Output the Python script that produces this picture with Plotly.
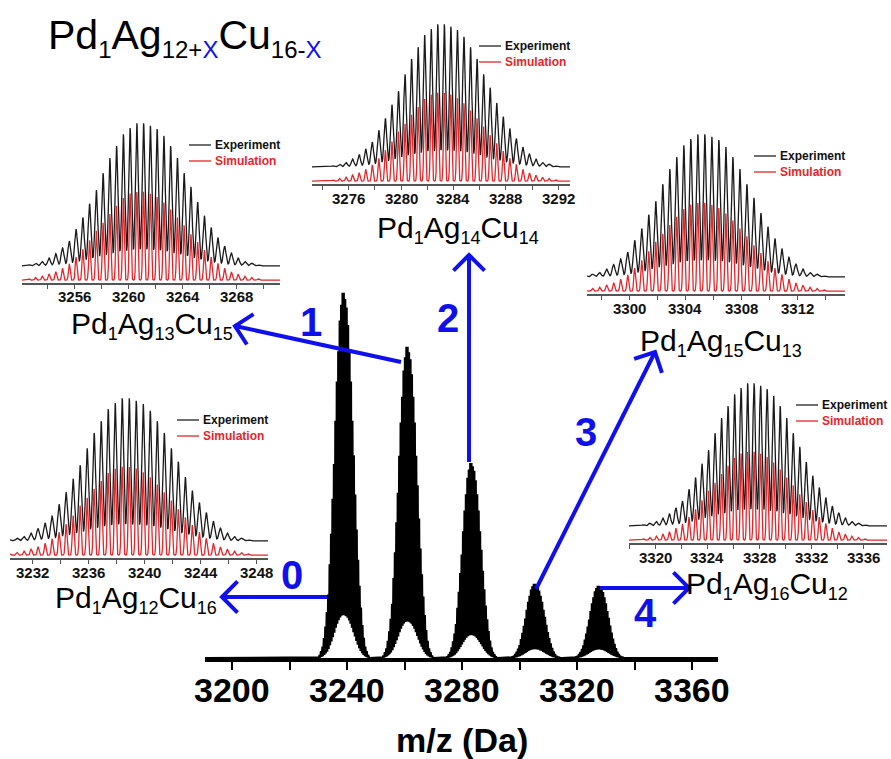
import numpy as np
import plotly.graph_objects as go

W, H = 891, 759

# ---------------- data ----------------
# Pd1Ag(12+x)Cu(16-x), 2- ions; one isotope envelope per x
x_index = [0, 1, 2, 3, 4]
formulas = [
    ("12", "16"),
    ("13", "15"),
    ("14", "14"),
    ("15", "13"),
    ("16", "12"),
]
center_mz = [3238.9, 3261.1, 3283.3, 3305.4, 3327.6]      # Da
envelope_height = [100.0, 85.2, 53.4, 20.3, 19.8]          # % of strongest envelope
iso_spacing = 0.5                                          # Da, z = 2

# relative isotope intensities (%), experiment and simulation
exp_pattern = [0.8, 1.9, 3.1, 5.5, 8.6, 12.6, 17.4, 25.7, 34.0, 43.6,
               53.1, 65.0, 75.7, 84.0, 92.4, 96.7, 100.0, 100.0, 98.3, 96.0,
               91.2, 84.0, 75.7, 65.0, 55.5, 44.8, 35.2, 26.9, 19.8, 13.8,
               9.0, 5.5, 3.1, 1.9, 0.8]
sim_pattern = [1.5, 3.0, 4.5, 7.0, 9.5, 13.5, 18.5, 26.0, 35.0, 45.0,
               56.0, 65.0, 75.0, 84.0, 93.0, 98.0, 100.0, 100.0, 98.0, 94.0,
               88.0, 80.0, 71.0, 62.0, 52.0, 43.0, 34.0, 26.0, 19.0, 13.5,
               9.3, 6.7, 4.5, 3.0, 1.5]
sim_scale = 62.0            # simulated envelope max, % of experiment

main_ticks = [3200, 3240, 3280, 3320, 3360]
inset_tick0 = [3232, 3256, 3276, 3300, 3320]

# ---------------- helpers ----------------
EXP_WIDTH = 0.105   # Da, gaussian sigma of measured isotope lines
SIM_WIDTH = 0.06


def profile(mz, center, scale, pattern, sigma):
    n = len(pattern)
    y = np.zeros_like(mz)
    for k, a in enumerate(pattern):
        pos = center + (k - (n - 1) / 2) * iso_spacing
        y += scale * a / 100.0 * np.exp(-0.5 * ((mz - pos) / sigma) ** 2)
    return y


def fx(px):
    return px / W


def fy(py):
    return 1 - py / H


def sub(t, size):
    return f"<sub><span style='font-size:{size}px'>{t}</span></sub>"


BLUE = "#1010ee"
RED = "#e4262b"
SANS = "Liberation Sans, Arial, sans-serif"
NARROW = "Liberation Sans Narrow, Arial Narrow, Liberation Sans, sans-serif"

fig = go.Figure()
annotations = []
shapes = []

# ---------------- main spectrum ----------------
x_lo, x_hi = 3190.6, 3369.0
mz = np.arange(x_lo, x_hi, 0.01)
spec = np.zeros_like(mz)
for c, h in zip(center_mz, envelope_height):
    spec += profile(mz, c, h, exp_pattern, EXP_WIDTH)
fig.add_trace(go.Scatter(x=mz, y=spec, mode="lines",
                         line=dict(color="black", width=2.0),
                         xaxis="x", yaxis="y", showlegend=False,
                         hoverinfo="skip"))

layout = dict(
    width=W, height=H,
    margin=dict(l=0, r=0, t=0, b=0),
    paper_bgcolor="white", plot_bgcolor="rgba(0,0,0,0)",
    showlegend=False,
)
layout["xaxis"] = dict(
    domain=[fx(205), fx(718)], range=[x_lo, x_hi],
    showline=True, linecolor="black", linewidth=3.5,
    ticks="outside", ticklen=8, tickwidth=2.2, tickcolor="black",
    tickvals=main_ticks, showticklabels=False, showgrid=False, zeroline=False,
    minor=dict(ticks="outside", ticklen=8, tickwidth=2.2, tickcolor="black",
               dtick=20, tick0=3200, showgrid=False),
    anchor="y",
)
layout["yaxis"] = dict(domain=[fy(658), fy(249)], range=[0, 112],
                       visible=False, anchor="x")

for v in main_ticks:
    annotations.append(dict(text=str(v), xref="x", yref="paper", x=v, y=fy(690),
                            xanchor="center", yanchor="middle", showarrow=False,
                            font=dict(family=NARROW, size=34, color="black",
                                      weight="bold")))
annotations.append(dict(text="m/z (Da)", xref="paper", yref="paper",
                        x=fx(462), y=fy(740), xanchor="center", yanchor="middle",
                        showarrow=False,
                        font=dict(family=SANS, size=34, color="black", weight="bold")))

# ---------------- insets ----------------
inset_axis_py = [558, 283, 184, 294, 543]
inset_left_px = [10, 22, 312, 587, 629]
inset_ranges = [(3230.4, 3248.8), (3252.1, 3271.2), (3273.2, 3292.9),
                (3297.0, 3315.4), (3318.0, 3337.8)]
INSET_W = 258
INSET_H = 164

for i in range(5):
    n = i + 2
    xa, ya = f"x{n}", f"y{n}"
    lo, hi = inset_ranges[i]
    m = np.arange(lo, hi, 0.008)
    exp_y = 12 + profile(m, center_mz[i], 100.0, exp_pattern, EXP_WIDTH)
    sim_y = 2 + profile(m, center_mz[i], sim_scale, sim_pattern, SIM_WIDTH)
    fig.add_trace(go.Scatter(x=m, y=exp_y, mode="lines",
                             line=dict(color="#1a1a1a", width=1.3),
                             xaxis=xa, yaxis=ya, hoverinfo="skip"))
    fig.add_trace(go.Scatter(x=m, y=sim_y, mode="lines",
                             line=dict(color=RED, width=1.3),
                             xaxis=xa, yaxis=ya, hoverinfo="skip"))
    ax_py = inset_axis_py[i]
    left = inset_left_px[i]
    layout[f"xaxis{n}"] = dict(
        domain=[fx(left), fx(left + INSET_W)], range=[lo, hi],
        showline=True, linecolor="#555", linewidth=1.6,
        ticks="outside", ticklen=4, tickwidth=1.2, tickcolor="#555",
        tick0=inset_tick0[i], dtick=4, showticklabels=False,
        showgrid=False, zeroline=False,
        minor=dict(ticks="outside", ticklen=4, tickwidth=1.2, tickcolor="#555",
                   dtick=2, tick0=inset_tick0[i], showgrid=False),
        anchor=ya,
    )
    layout[f"yaxis{n}"] = dict(domain=[fy(ax_py), fy(ax_py - INSET_H)],
                               range=[0, 115], visible=False, anchor=xa)

    for v in range(inset_tick0[i], int(hi) + 1, 4):
        annotations.append(dict(text=str(v), xref=xa, yref="paper", x=v,
                                y=fy(ax_py + 14), xanchor="center", yanchor="middle",
                                showarrow=False,
                                font=dict(family=SANS, size=15, color="#111",
                                          weight="bold")))

    # legend block
    right = left + INSET_W
    for text, col, lc, dy in (("Experiment", "#111", "#222", -138),
                              ("Simulation", RED, RED, -122)):
        shapes.append(dict(type="line", xref="paper", yref="paper",
                           x0=fx(right - 91), x1=fx(right - 69),
                           y0=fy(ax_py + dy), y1=fy(ax_py + dy),
                           line=dict(color=lc, width=1.3)))
        annotations.append(dict(text=text, xref="paper", yref="paper",
                                x=fx(right - 67), y=fy(ax_py + dy),
                                xanchor="left", yanchor="middle", showarrow=False,
                                font=dict(family=SANS, size=12, color=col,
                                          weight="bold")))

# formula labels under each inset
label_pos = [(136, 599), (152, 325), (458, 230), (721, 342), (767, 585)]
for (ag, cu), (lx, ly) in zip(formulas, label_pos):
    annotations.append(dict(
        text="Pd" + sub("1", 18) + "Ag" + sub(ag, 18) + "Cu" + sub(cu, 18),
        xref="paper", yref="paper", x=fx(lx), y=fy(ly),
        xanchor="center", yanchor="middle", showarrow=False,
        font=dict(family=SANS, size=30, color="black")))

# overall formula
annotations.append(dict(
    text=("Pd" + sub("1", 24) + "Ag"
          + f"<sub><span style='font-size:24px'>12+<span style='color:{BLUE}'>X</span></span></sub>"
          + "Cu"
          + f"<sub><span style='font-size:24px'>16-<span style='color:{BLUE}'>X</span></span></sub>"),
    xref="paper", yref="paper", x=fx(185), y=fy(38),
    xanchor="center", yanchor="middle", showarrow=False,
    font=dict(family=SANS, size=41, color="black")))

# ---------------- arrows from peaks to insets ----------------
arrows = [((327, 597), (222, 597)),
          ((401, 362), (235, 326)),
          ((469, 462), (469, 255)),
          ((536, 589), (655, 352)),
          ((600, 588), (689, 588))]
number_pos = [(292, 575), (311, 322), (448, 318), (586, 432), (645, 613)]

for (tail, tip), k, (nx, ny) in zip(arrows, x_index, number_pos):
    shapes.append(dict(type="line", xref="paper", yref="paper",
                       x0=fx(tail[0]), y0=fy(tail[1]), x1=fx(tip[0]), y1=fy(tip[1]),
                       line=dict(color=BLUE, width=4)))
    d = np.array(tail, float) - np.array(tip, float)
    d /= np.hypot(*d)
    arms = []
    for ang in (np.pi / 4, -np.pi / 4):
        r = np.array([d[0] * np.cos(ang) - d[1] * np.sin(ang),
                      d[0] * np.sin(ang) + d[1] * np.cos(ang)])
        arms.append(np.array(tip) + 22 * r)
    path = (f"M {fx(arms[0][0])},{fy(arms[0][1])} L {fx(tip[0])},{fy(tip[1])} "
            f"L {fx(arms[1][0])},{fy(arms[1][1])}")
    shapes.append(dict(type="path", xref="paper", yref="paper", path=path,
                       line=dict(color=BLUE, width=4)))
    annotations.append(dict(text=str(k), xref="paper", yref="paper",
                            x=fx(nx), y=fy(ny), xanchor="center", yanchor="middle",
                            showarrow=False,
                            font=dict(family=SANS, size=40, color=BLUE, weight="bold")))

layout["shapes"] = shapes
layout["annotations"] = annotations
fig.update_layout(**layout)
fig.write_html("out.html")
